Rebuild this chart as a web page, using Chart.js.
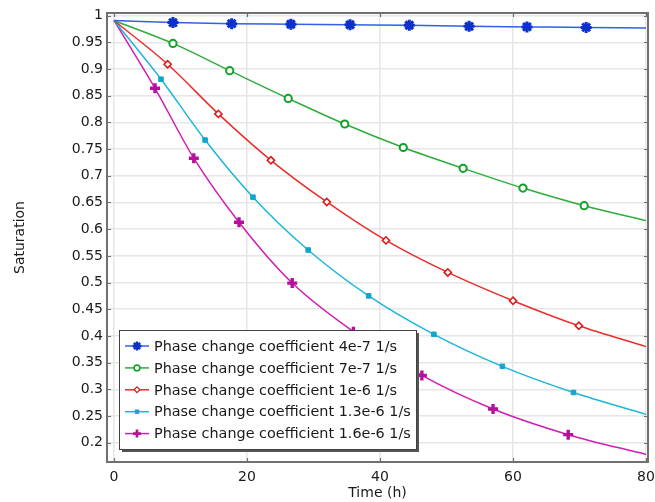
<!DOCTYPE html>
<html>
<head>
<meta charset="utf-8">
<script src="https://cdn.jsdelivr.net/npm/chart.js@4/dist/chart.umd.min.js"></script>
<style>
  html, body { margin: 0; padding: 0; background: #fff; }
  #wrap { width: 655px; height: 502px; position: relative; }
</style>
</head>
<body>
<div id="wrap"><canvas id="chart" width="655" height="502"></canvas></div>
<script>
// values
const seriesLabels = [
  'Phase change coefficient 4e-7 1/s',
  'Phase change coefficient 7e-7 1/s',
  'Phase change coefficient 1e-6 1/s',
  'Phase change coefficient 1.3e-6 1/s',
  'Phase change coefficient 1.6e-6 1/s'
];

const timeA = [0, 8.87, 17.7, 26.6, 35.5, 44.4, 53.4, 62.1, 71.0, 80];
const satA = [0.991, 0.987, 0.985, 0.984, 0.983, 0.982, 0.980, 0.979, 0.978, 0.977];

const timeB = [0, 8.87, 17.4, 26.2, 34.7, 43.5, 52.5, 61.5, 70.7, 80];
const satB = [0.991, 0.948, 0.897, 0.845, 0.797, 0.753, 0.714, 0.677, 0.644, 0.616];

const timeC = [0, 8.07, 15.7, 23.6, 32.0, 40.9, 50.2, 60.0, 69.9, 80];
const satC = [0.991, 0.909, 0.816, 0.729, 0.651, 0.579, 0.519, 0.466, 0.419, 0.380];

const timeD = [0, 7.07, 13.7, 20.9, 29.2, 38.3, 48.1, 58.4, 69.1, 80];
const satD = [0.991, 0.881, 0.767, 0.660, 0.561, 0.475, 0.403, 0.343, 0.294, 0.253];

const timeE = [0, 6.17, 12.0, 18.8, 26.8, 36.0, 46.3, 57.0, 68.3, 80];
const satE = [0.991, 0.864, 0.733, 0.613, 0.499, 0.408, 0.326, 0.263, 0.215, 0.178];

const xTicks = [0, 20, 40, 60, 80];
const yTicks = [0.2, 0.25, 0.3, 0.35, 0.4, 0.45, 0.5, 0.55, 0.6, 0.65, 0.7, 0.75, 0.8, 0.85, 0.9, 0.95, 1];

const FONT = "'DejaVu Sans', sans-serif";

const toPoints = (xs, ys) => xs.map((x, i) => ({ x: x, y: ys[i] }));

// markers only on the inner points, not at the curve ends
const innerRadius = r => ctx => {
  const n = ctx.dataset.data.length;
  return (ctx.dataIndex === 0 || ctx.dataIndex === n - 1) ? 0 : r;
};

function makeSet(label, xs, ys, line, marker, style, r, bw, fill) {
  return {
    label: label,
    data: toPoints(xs, ys),
    borderColor: line,
    borderWidth: 1.5,
    pointBorderColor: marker,
    pointBackgroundColor: fill,
    pointStyle: style,
    pointRadius: innerRadius(r),
    pointBorderWidth: bw,
    cubicInterpolationMode: 'monotone',
    fill: false
  };
}

const datasets = [
  makeSet(seriesLabels[0], timeA, satA, '#3060e8', '#0b30cc', 'star', 5.5, 3, '#0b30cc'),
  makeSet(seriesLabels[1], timeB, satB, '#2eac3c', '#12a02a', 'circle', 3.6, 2, '#ffffff'),
  makeSet(seriesLabels[2], timeC, satC, '#ee2b2b', '#dd1b1b', 'rectRot', 3.6, 1.6, '#ffffff'),
  makeSet(seriesLabels[3], timeD, satD, '#1cb6dc', '#0fa5cc', 'rect', 3.2, 1, '#0fa5cc'),
  makeSet(seriesLabels[4], timeE, satE, '#d11db4', '#b5109d', 'cross', 5, 3.4, '#b5109d')
];

const frame = {
  id: 'frame',
  afterDraw(chart) {
    const { ctx, chartArea: a, scales } = chart;
    ctx.save();
    ctx.strokeStyle = '#6e6e6e';
    ctx.lineWidth = 1.2;
    const tl = 4;
    ctx.beginPath();
    yTicks.forEach(v => {
      const y = Math.round(scales.y.getPixelForValue(v)) + 0.5;
      ctx.moveTo(a.left, y); ctx.lineTo(a.left + tl, y);
      ctx.moveTo(a.right, y); ctx.lineTo(a.right - tl, y);
    });
    xTicks.forEach(v => {
      const x = Math.round(scales.x.getPixelForValue(v)) + 0.5;
      ctx.moveTo(x, a.top); ctx.lineTo(x, a.top + tl);
      ctx.moveTo(x, a.bottom); ctx.lineTo(x, a.bottom - tl);
    });
    ctx.stroke();
    ctx.lineWidth = 2;
    ctx.strokeStyle = '#707070';
    ctx.strokeRect(a.left, a.top, a.right - a.left, a.bottom - a.top);
    ctx.restore();
  }
};

const boxLegend = {
  id: 'boxLegend',
  afterDraw(chart) {
    const { ctx } = chart;
    const bx = 119, by = 330, bw = 297, bh = 119;
    ctx.save();
    ctx.fillStyle = '#555';
    ctx.fillRect(bx + 3, by + 3, bw, bh);
    ctx.fillStyle = '#fff';
    ctx.fillRect(bx, by, bw, bh);
    ctx.strokeStyle = '#404040';
    ctx.lineWidth = 1;
    ctx.strokeRect(bx + 0.5, by + 0.5, bw, bh);

    ctx.font = '14.4px ' + FONT;
    ctx.textBaseline = 'middle';
    ctx.textAlign = 'left';
    chart.data.datasets.forEach((ds, i) => {
      const y = by + 16 + i * 21.9;
      ctx.strokeStyle = ds.borderColor;
      ctx.lineWidth = 1.5;
      ctx.beginPath();
      ctx.moveTo(125, y); ctx.lineTo(149, y);
      ctx.stroke();
      const r = (typeof ds.pointRadius === 'function') ? ds.pointRadius({ dataIndex: 1, dataset: ds }) : ds.pointRadius;
      ctx.strokeStyle = ds.pointBorderColor;
      ctx.fillStyle = ds.pointBackgroundColor;
      ctx.lineWidth = ds.pointBorderWidth * 0.8;
      Chart.helpers.drawPoint(ctx, { pointStyle: ds.pointStyle, radius: r * 0.8, rotation: 0, borderWidth: ds.pointBorderWidth * 0.8 }, 137, y);
      ctx.fillStyle = '#1a1a1a';
      ctx.fillText(ds.label, 154, y + 1);
    });
    ctx.restore();
  }
};

new Chart(document.getElementById('chart').getContext('2d'), {
  type: 'line',
  data: { datasets: datasets },
  options: {
    responsive: false,
    animation: false,
    layout: { padding: { top: 13, right: 7, left: 0, bottom: 0 } },
    plugins: {
      legend: { display: false },
      tooltip: { enabled: false }
    },
    scales: {
      x: {
        type: 'linear',
        min: -1.05,
        max: 80.3,
        afterBuildTicks: s => { s.ticks = xTicks.map(v => ({ value: v })); },
        afterFit: s => { s.height = 40; s.paddingLeft = 0; s.paddingRight = 0; },
        grid: { color: '#e6e6e6', lineWidth: 1.5, drawTicks: false },
        border: { display: false },
        ticks: { font: { family: FONT, size: 14 }, color: '#1a1a1a', padding: 7, maxRotation: 0 },
        title: { display: true, text: 'Time (h)', font: { family: FONT, size: 14 }, color: '#1a1a1a', padding: { top: 0, bottom: 0 } }
      },
      y: {
        min: 0.1638,
        max: 1.005,
        afterBuildTicks: s => { s.ticks = yTicks.map(v => ({ value: v })); },
        afterFit: s => { s.width = 107; s.paddingTop = 0; s.paddingBottom = 0; },
        grid: { color: '#e6e6e6', lineWidth: 1.5, drawTicks: false },
        border: { display: false },
        ticks: {
          font: { family: FONT, size: 14 },
          color: '#1a1a1a',
          padding: 4,
          callback: v => String(Math.round(v * 100) / 100)
        },
        title: { display: true, text: 'Saturation', font: { family: FONT, size: 14 }, color: '#1a1a1a', padding: { top: 12, bottom: 0 } }
      }
    }
  },
  plugins: [frame, boxLegend]
});
</script>
</body>
</html>
